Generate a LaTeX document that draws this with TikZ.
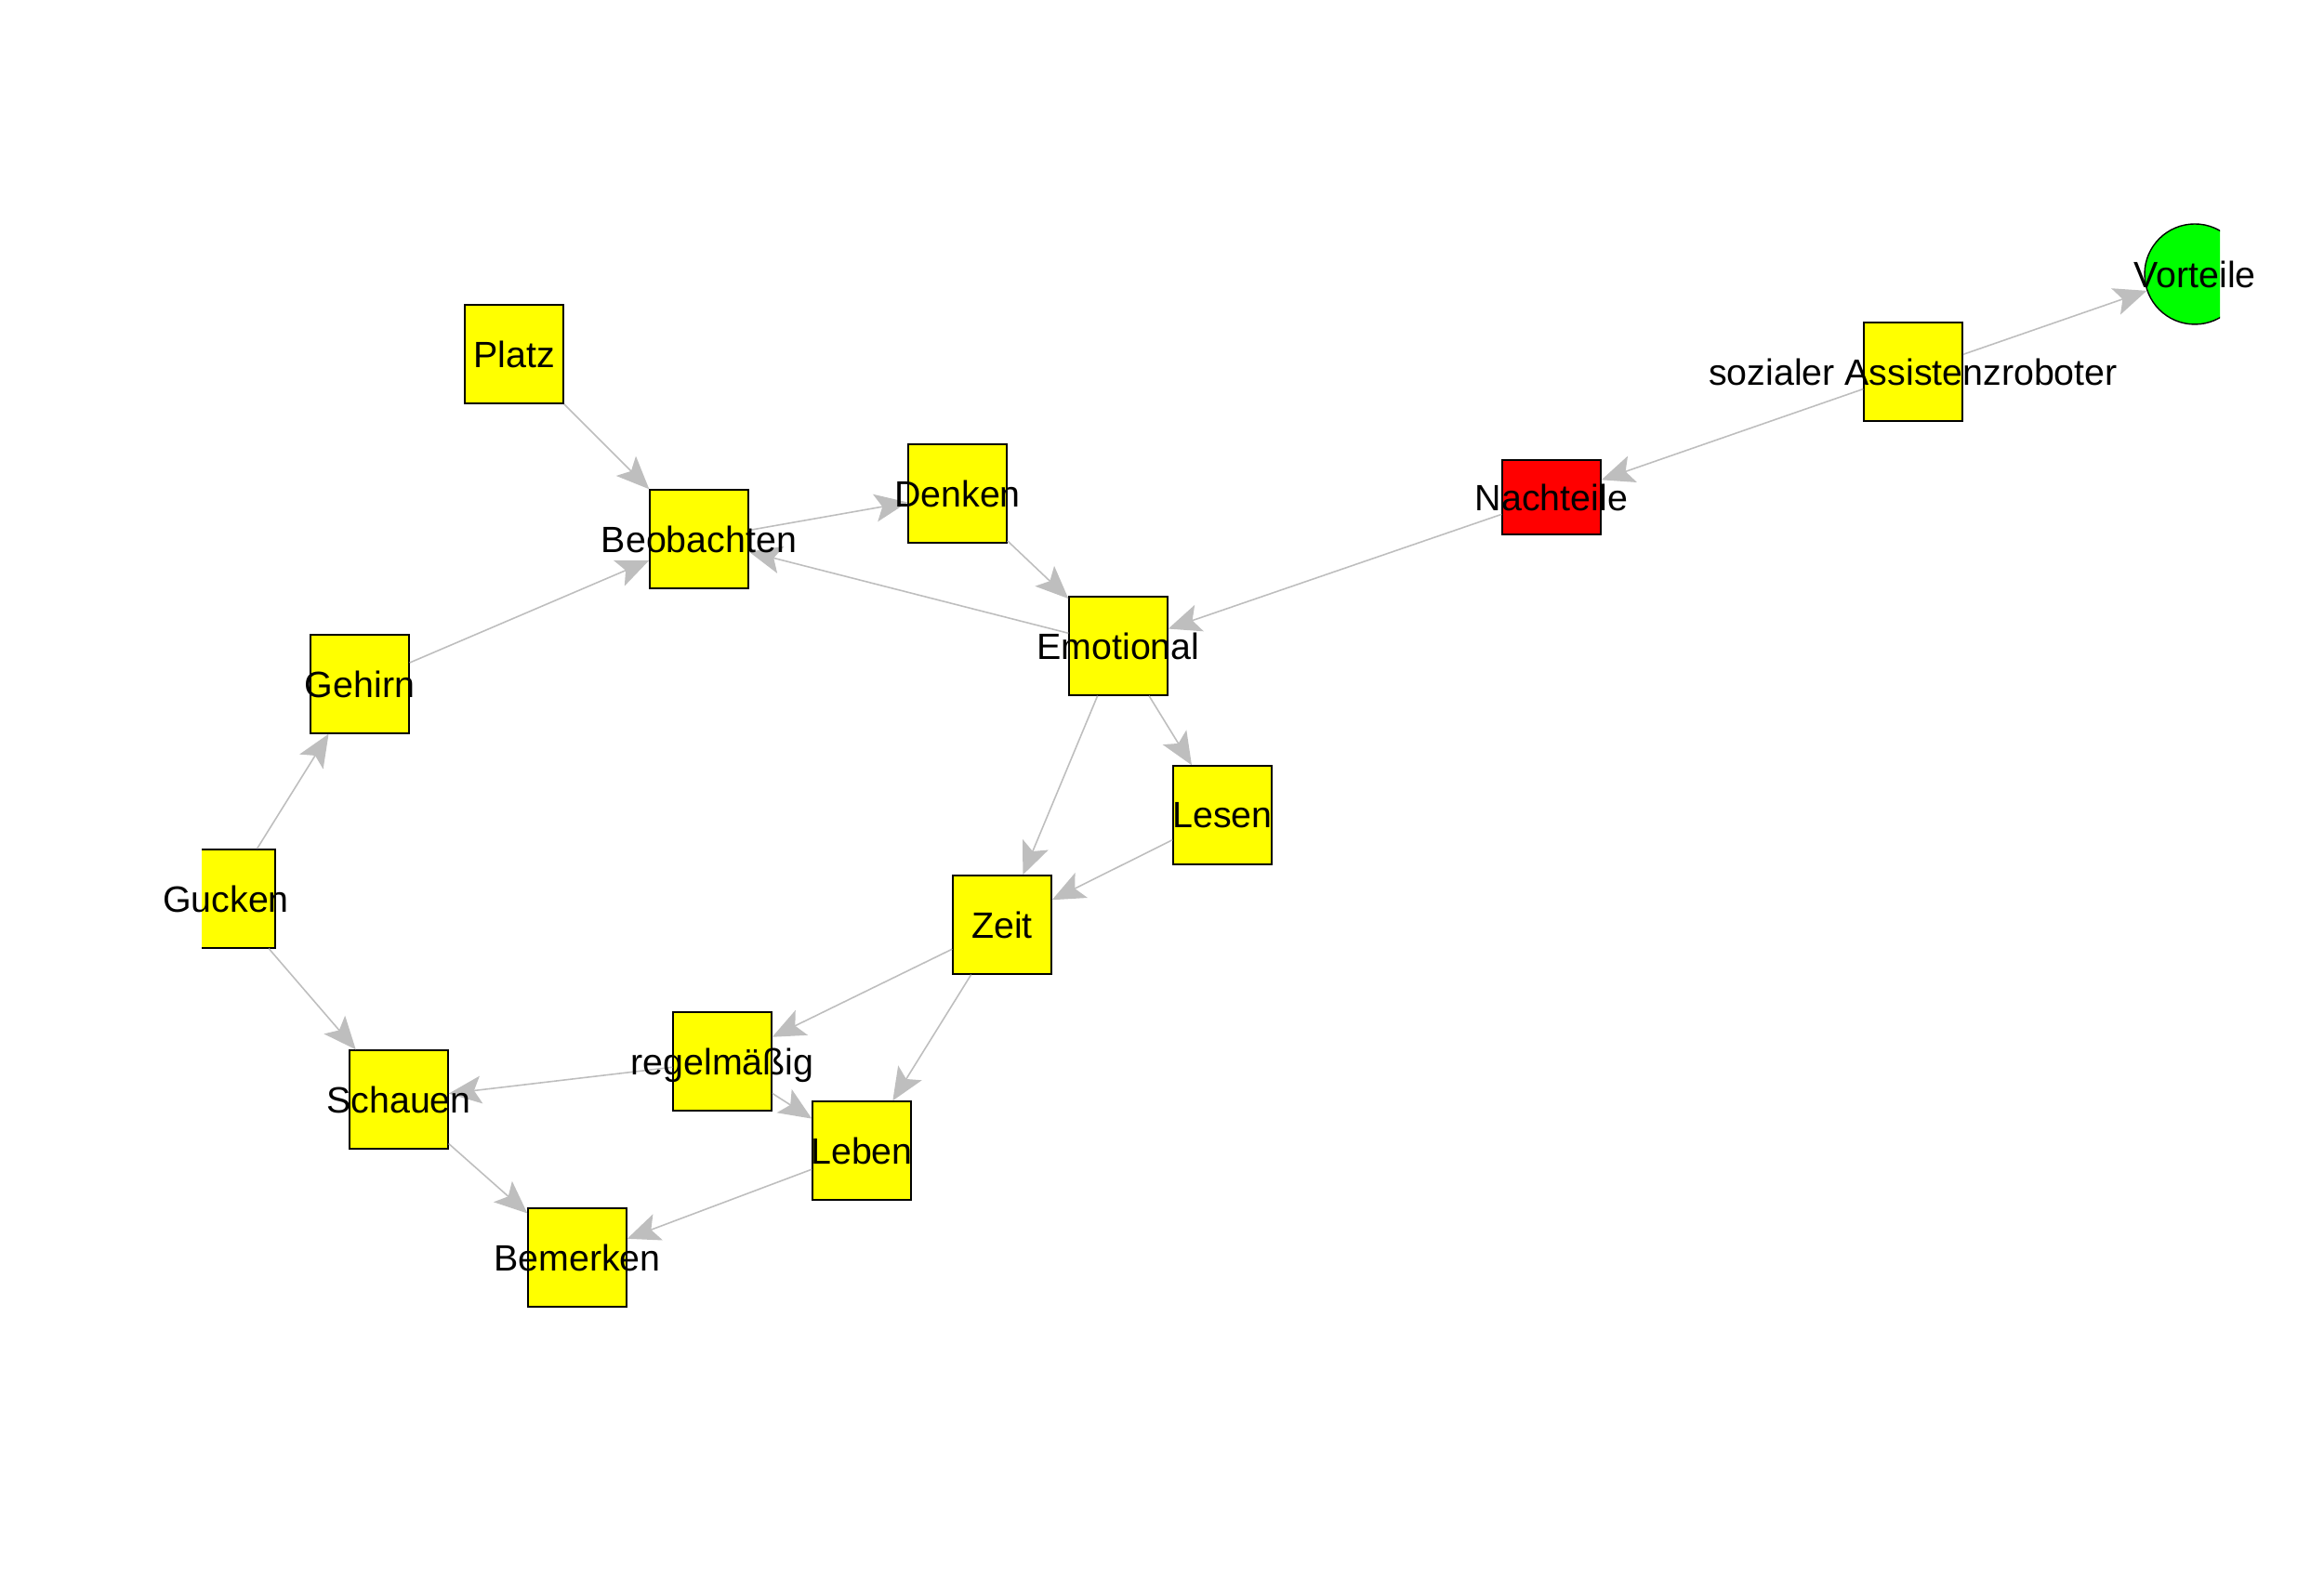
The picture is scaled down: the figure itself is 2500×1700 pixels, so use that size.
\documentclass[tikz,border=0pt]{standalone}
\usepackage{fontspec}
\setmainfont{Liberation Sans}
\usetikzlibrary{arrows.meta}
\definecolor{edgegray}{RGB}{190,190,190}
\definecolor{vyellow}{RGB}{255,255,0}
\definecolor{vred}{RGB}{255,0,0}
\definecolor{vgreen}{RGB}{0,255,0}
\begin{document}
\begin{tikzpicture}%
	[x=0.1mm, y=0.1mm,
	edge/.style={color=edgegray, line width=0.45pt, -{Stealth[length=10pt,width=8.5pt,inset=2.2pt]}},
	vertex/.style={draw=black, fill=vyellow, line width=0.4pt, inner sep=0pt, minimum width=1.06cm, minimum height=1.06cm},
	minus/.style={vertex, fill=vred, minimum height=0.8cm},
	plus/.style={draw=black, fill=vgreen, line width=0.4pt, circle, inner sep=0pt, minimum size=1.08cm},
	tag/.style={inner sep=0pt, text depth=0pt, font=\fontsize{11.2}{13}\selectfont}]
\useasboundingbox (0,0) rectangle (2500,1700);
%%
%% Drawing the vertices (clipped to the plot region)
%%
\begin{scope}
\clip (217,0) rectangle (2388,1700);
\node[plus] (vorteile) at (2361,1405) {};
\node[vertex] (roboter) at (2058,1300) {};
\node[minus] (nachteile) at (1669,1165) {};
\node[vertex] (platz) at (553,1319) {};
\node[vertex] (beobachten) at (752,1120) {};
\node[vertex] (denken) at (1030,1169) {};
\node[vertex] (emotional) at (1203,1005) {};
\node[vertex] (gehirn) at (387,964) {};
\node[vertex] (lesen) at (1315,823) {};
\node[vertex] (gucken) at (243,733) {};
\node[vertex] (zeit) at (1078,705) {};
\node[vertex] (regel) at (777,558) {};
\node[vertex] (schauen) at (429,517) {};
\node[vertex] (leben) at (927,462) {};
\node[vertex] (bemerken) at (621,347) {};
\end{scope}
%%
%% Drawing the edges
%%
\draw[edge] (roboter) -- (vorteile);
\draw[edge] (roboter) -- (nachteile);
\draw[edge] (nachteile) -- (emotional);
\draw[edge] (platz) -- (beobachten);
\draw[edge] (beobachten) -- (denken);
\draw[edge] (emotional) -- (beobachten);
\draw[edge] (denken) -- (emotional);
\draw[edge] (gehirn) -- (beobachten);
\draw[edge] (gucken) -- (gehirn);
\draw[edge] (gucken) -- (schauen);
\draw[edge] (emotional) -- (lesen);
\draw[edge] (emotional) -- (zeit);
\draw[edge] (lesen) -- (zeit);
\draw[edge] (zeit) -- (regel);
\draw[edge] (zeit) -- (leben);
\draw[edge] (regel) -- (schauen);
\draw[edge] (regel) -- (leben);
\draw[edge] (schauen) -- (bemerken);
\draw[edge] (leben) -- (bemerken);
%%
%% Drawing the labels
%%
\node[tag] (vorteile-l) at (vorteile) {Vorteile};
\node[tag] (roboter-l) at (roboter) {sozialer Assistenzroboter};
\node[tag] (nachteile-l) at (nachteile) {Nachteile};
\node[tag] (platz-l) at (platz) {Platz};
\node[tag] (beobachten-l) at (beobachten) {Beobachten};
\node[tag] (denken-l) at (denken) {Denken};
\node[tag] (emotional-l) at (emotional) {Emotional};
\node[tag] (gehirn-l) at (gehirn) {Gehirn};
\node[tag] (lesen-l) at (lesen) {Lesen};
\node[tag] (gucken-l) at (gucken) {Gucken};
\node[tag] (zeit-l) at (zeit) {Zeit};
\node[tag] (regel-l) at (regel) {regelmäßig};
\node[tag] (schauen-l) at (schauen) {Schauen};
\node[tag] (leben-l) at (leben) {Leben};
\node[tag] (bemerken-l) at (bemerken) {Bemerken};
%%
\end{tikzpicture}
\end{document}
